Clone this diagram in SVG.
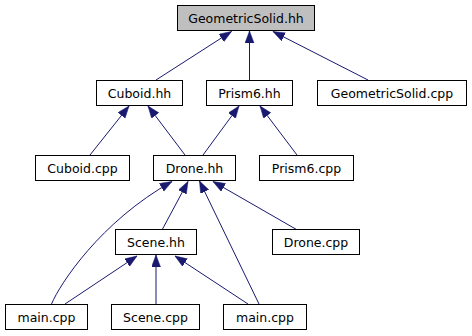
<svg xmlns="http://www.w3.org/2000/svg" width="472" height="336" viewBox="0 0 472 336">
  <style>
    .node rect { fill: #ffffff; stroke: #000000; stroke-width: 1; }
    .node.root rect { fill: #bfbfbf; }
    .node text { font-family: "DejaVu Sans", "Liberation Sans", sans-serif; font-size: 12.5px; fill: #000000; text-anchor: middle; }
    .edge { fill: none; stroke: #191970; stroke-width: 1; marker-end: url(#arrow); }
  </style>
  <defs>
    <marker id="arrow" markerUnits="userSpaceOnUse" markerWidth="13" markerHeight="10" refX="12" refY="4.5" orient="auto">
      <path d="M0,0 L12,4.5 L0,9 Z" fill="#191970" stroke="#191970" stroke-width="0.5"/>
    </marker>
  </defs>
  <rect width="472" height="336" fill="#ffffff"/>

  <!-- include edges: each arrow points from the including file to the included header -->
  <g id="edges">
    <path class="edge" d="M156,80 L231.5,31.5"/>
    <path class="edge" d="M249.5,80 L249.5,31"/>
    <path class="edge" d="M368,80 L273,31.5"/>
    <path class="edge" d="M90,155 L129,106"/>
    <path class="edge" d="M185,155 L148,106"/>
    <path class="edge" d="M203,155 L239,106"/>
    <path class="edge" d="M297,155 L260,106"/>
    <path class="edge" d="M162,230 L188,181.5"/>
    <path class="edge" d="M51.5,304 C60,284 100,222 172,181.5"/>
    <path class="edge" d="M259,304 L199.5,181"/>
    <path class="edge" d="M296.5,229.5 L213,181.5"/>
    <path class="edge" d="M65,304 L137,256"/>
    <path class="edge" d="M156,304 L156,255"/>
    <path class="edge" d="M248,304 L175,256"/>
  </g>

  <g id="node-geometricsolid-hh" class="node root">
    <rect x="177.5" y="5.5" width="137" height="25"/>
    <text x="246" y="22.5">GeometricSolid.hh</text>
  </g>
  <g id="node-cuboid-hh" class="node">
    <rect x="96.5" y="80.5" width="86" height="25"/>
    <text x="139.5" y="97.5">Cuboid.hh</text>
  </g>
  <g id="node-prism6-hh" class="node">
    <rect x="206.5" y="80.5" width="86" height="25"/>
    <text x="249.5" y="97.5">Prism6.hh</text>
  </g>
  <g id="node-geometricsolid-cpp" class="node">
    <rect x="317.5" y="80.5" width="149" height="25"/>
    <text x="392" y="97.5">GeometricSolid.cpp</text>
  </g>
  <g id="node-cuboid-cpp" class="node">
    <rect x="35.5" y="155.5" width="94" height="25"/>
    <text x="82.5" y="172.5">Cuboid.cpp</text>
  </g>
  <g id="node-drone-hh" class="node">
    <rect x="153.5" y="155.5" width="82" height="25"/>
    <text x="194.5" y="172.5">Drone.hh</text>
  </g>
  <g id="node-prism6-cpp" class="node">
    <rect x="259.5" y="155.5" width="94" height="25"/>
    <text x="306.5" y="172.5">Prism6.cpp</text>
  </g>
  <g id="node-scene-hh" class="node">
    <rect x="115.5" y="229.5" width="81" height="25"/>
    <text x="156" y="246.5">Scene.hh</text>
  </g>
  <g id="node-drone-cpp" class="node">
    <rect x="272.5" y="229.5" width="87" height="25"/>
    <text x="316" y="246.5">Drone.cpp</text>
  </g>
  <g id="node-main-cpp-1" class="node">
    <rect x="5.5" y="304.5" width="82" height="25"/>
    <text x="46.5" y="321.5">main.cpp</text>
  </g>
  <g id="node-scene-cpp" class="node">
    <rect x="111.5" y="304.5" width="88" height="25"/>
    <text x="155.5" y="321.5">Scene.cpp</text>
  </g>
  <g id="node-main-cpp-2" class="node">
    <rect x="223.5" y="304.5" width="83" height="25"/>
    <text x="265" y="321.5">main.cpp</text>
  </g>
</svg>
